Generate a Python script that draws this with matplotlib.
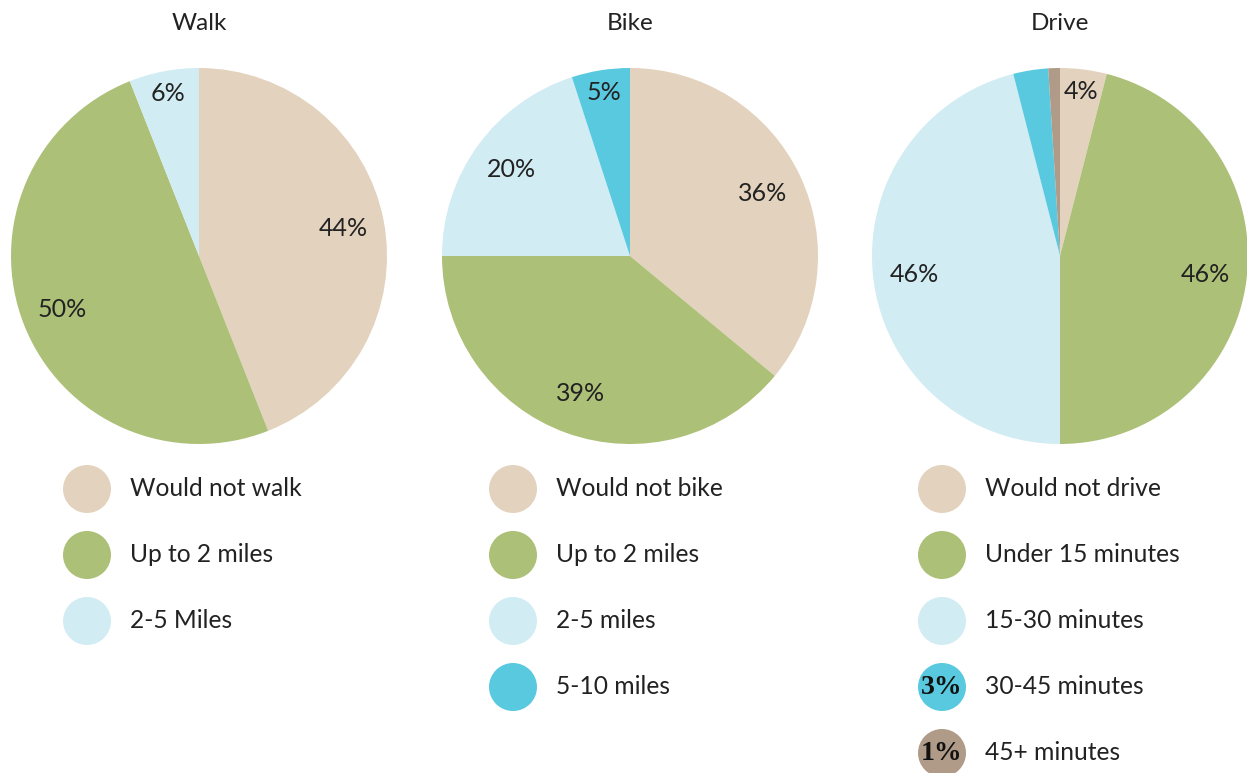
import matplotlib
matplotlib.use("Agg")
import matplotlib.pyplot as plt
from matplotlib.patches import Circle
import numpy as np

plt.rcParams['font.family'] = ['Lato', 'DejaVu Sans']

titles = ["Walk", "Bike", "Drive"]
walk_labels = ["Would not walk", "Up to 2 miles", "2-5 Miles"]
walk_values = [44, 50, 6]
bike_labels = ["Would not bike", "Up to 2 miles", "2-5 miles", "5-10 miles"]
bike_values = [36, 39, 20, 5]
drive_labels = ["Would not drive", "Under 15 minutes", "15-30 minutes", "30-45 minutes", "45+ minutes"]
drive_values = [4, 46, 46, 3, 1]

palette = ["#E3D3BE", "#ADC078", "#D1ECF3", "#59C9E0", "#B09A88"]
text_color = "#222222"

W, H = 1247, 773
fig = plt.figure(figsize=(W / 100, H / 100), dpi=100)

centers_x = [199, 630, 1060]
center_y = 256
R = 188
legend_x = [87, 513, 942]

datasets = [(walk_labels, walk_values), (bike_labels, bike_values), (drive_labels, drive_values)]

# overlay axes in pixel coordinates for titles and legends
ov = fig.add_axes([0, 0, 1, 1])
ov.set_xlim(0, W)
ov.set_ylim(H, 0)
ov.axis("off")

for i, (labels, values) in enumerate(datasets):
    cx = centers_x[i]
    ax = fig.add_axes([(cx - R) / W, (H - center_y - R) / H, 2 * R / W, 2 * R / H])
    wedges, _ = ax.pie(values, colors=palette[:len(values)], startangle=90, counterclock=False,
                       radius=1.0, wedgeprops=dict(linewidth=0))
    ax.set_xlim(-1, 1)
    ax.set_ylim(-1, 1)
    ax.set_aspect("equal")
    ax.axis("off")
    for w, v in zip(wedges, values):
        if v < 4:
            continue
        ang = np.deg2rad((w.theta1 + w.theta2) / 2)
        r = 0.78 if v >= 10 else 0.88
        ax.text(r * np.cos(ang), r * np.sin(ang), f"{v}%", ha="center", va="center",
                fontsize=18, color=text_color)
    ov.text(cx, 23, titles[i], ha="center", va="center", fontsize=17.5, color=text_color)
    for j, lab in enumerate(labels):
        y = 489 + 66 * j
        ov.add_patch(Circle((legend_x[i], y), 24, color=palette[j], lw=0))
        ov.text(legend_x[i] + 43, y, lab, ha="left", va="center", fontsize=17.7, color=text_color)
        if values[j] < 4:
            ov.text(legend_x[i], y + 1, f"{values[j]}%", ha="center", va="center",
                    fontsize=20, fontweight="bold", family="Liberation Serif", color="#111111")

fig.savefig("out.png", dpi=100, facecolor="white")
